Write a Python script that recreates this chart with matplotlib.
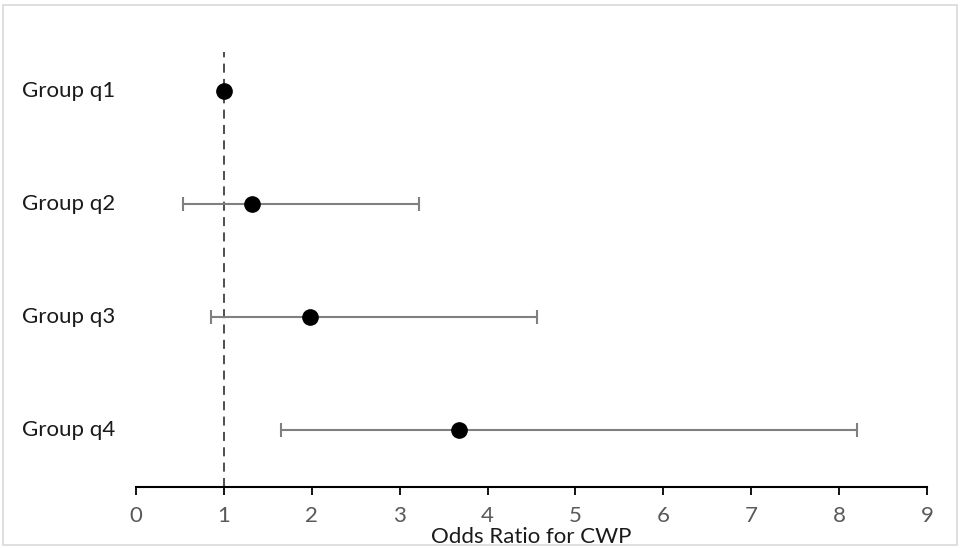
import matplotlib
matplotlib.use("Agg")
import matplotlib.pyplot as plt
from matplotlib.patches import Rectangle
import matplotlib.transforms as mtransforms

groups = ["Group q1", "Group q2", "Group q3", "Group q4"]
odds = [1.0, 1.32, 1.98, 3.67]
ci_low = [1.0, 0.54, 0.85, 1.65]
ci_high = [1.0, 3.22, 4.56, 8.2]
xticks = list(range(0, 10))

plt.rcParams['font.family'] = ['Lato', 'DejaVu Sans']

fig = plt.figure(figsize=(9.6, 5.48), dpi=100)
fig.patches.append(Rectangle((3/960, 3/548), 954/960, 540/548, transform=fig.transFigure,
                             fill=False, edgecolor='#d9d9d9', linewidth=1.2))
ax = fig.add_axes([136/960, 61/548, (927-136)/960, (487-34.5)/548])

ypos = list(range(len(groups)))
xerr = [[o - l for o, l in zip(odds, ci_low)], [h - o for o, h in zip(odds, ci_high)]]
ax.errorbar(odds[1:], ypos[1:], xerr=[xerr[0][1:], xerr[1][1:]], fmt='none',
            ecolor='#808080', elinewidth=1.5, capsize=5, capthick=1.5, zorder=2)
ax.plot(odds, ypos, 'o', color='black', markersize=11, zorder=3)

ax.vlines(1, 3.5, -0.345, colors='#404040', linestyles=(0, (5, 3.5)), linewidth=1.3, zorder=1)

ax.set_xlim(0, 9)
ax.set_ylim(3.5, -0.5)
ax.set_xticks(xticks)
ax.set_xticklabels([str(t) for t in xticks], fontsize=16, color='#595959')
ax.set_yticks([])
trans = mtransforms.blended_transform_factory(fig.transFigure, ax.transData)
for y, g in zip(ypos, groups):
    ax.text(22/960, y, g, transform=trans, ha='left', va='center',
            fontsize=16, color='#1a1a1a')
ax.tick_params(axis='x', direction='out', length=6, width=1.3, color='black', pad=8)
for s in ['top', 'right', 'left']:
    ax.spines[s].set_visible(False)
ax.spines['bottom'].set_linewidth(1.5)
ax.spines['bottom'].set_color('black')
fig.text(531/960, 1 - 537/548, "Odds Ratio for CWP", fontsize=16, color='#1a1a1a',
         ha='center', va='center')

fig.savefig("out.png", dpi=100)
